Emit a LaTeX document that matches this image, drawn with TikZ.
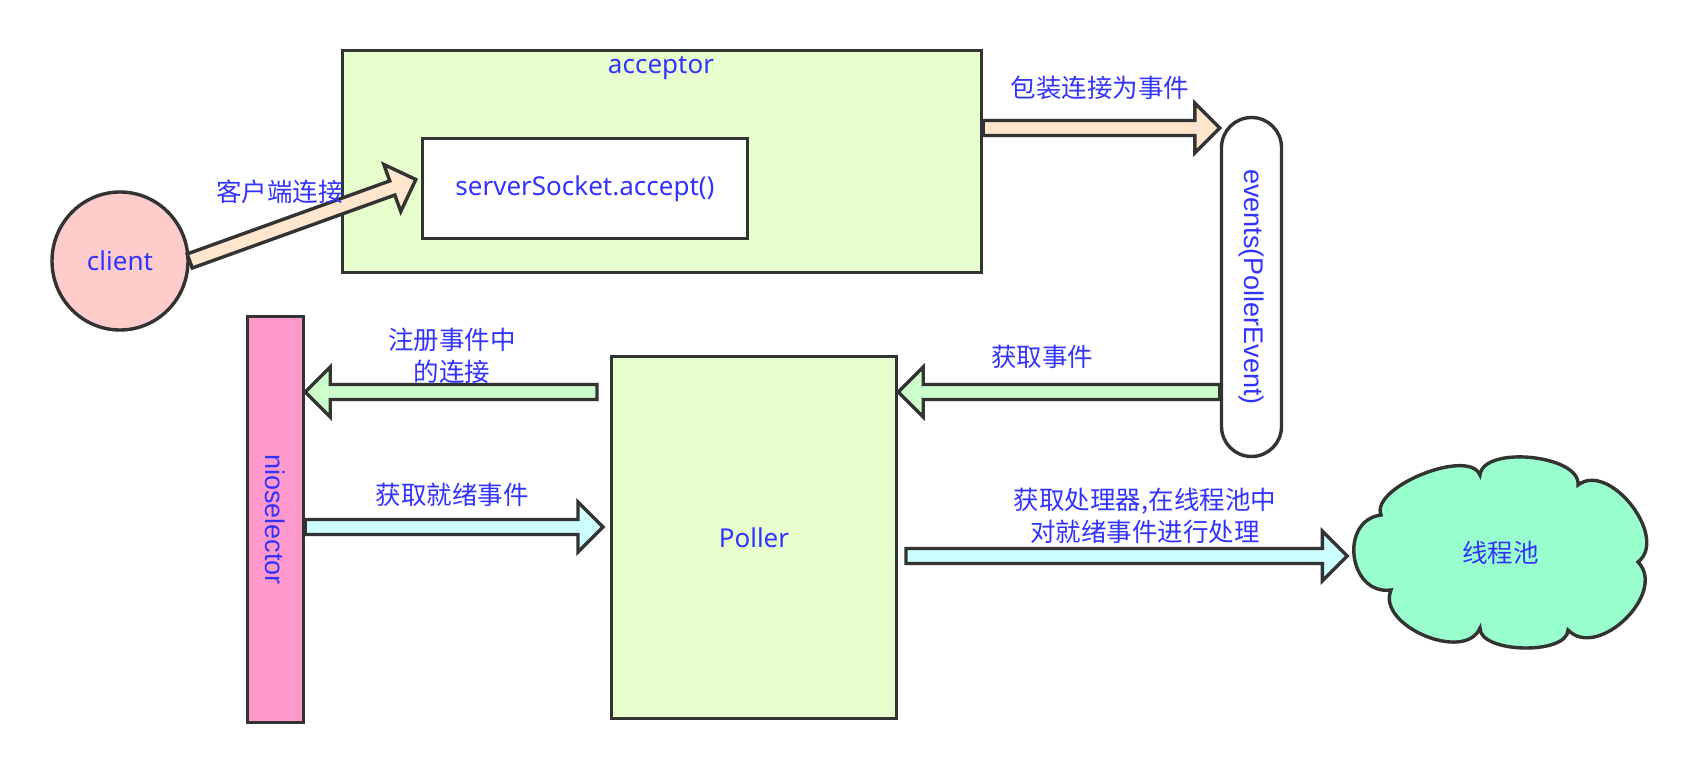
\documentclass[tikz,border=0pt]{standalone}
\usepackage{fontspec}
\usepackage{graphicx}
\setmainfont{Noto Sans}
\newfontfamily\cjk{Noto Sans CJK SC}
\newfontfamily\rotfont{Liberation Sans}
\usetikzlibrary{calc,shapes.geometric}

\definecolor{edgegray}{HTML}{333333}
\definecolor{txtblue}{HTML}{3333FF}
\definecolor{boxgreen}{HTML}{E6FFCC}
\definecolor{clientpink}{HTML}{FFCCCC}
\definecolor{niopink}{HTML}{FF99CC}
\definecolor{poolgreen}{HTML}{99FFCC}
\definecolor{peach}{HTML}{FFE6CC}
\definecolor{mint}{HTML}{CCFFCC}
\definecolor{aqua}{HTML}{CCFFFF}

\tikzset{
  box/.style={draw=edgegray, line width=3.4pt, inner sep=0pt},
  txt/.style={text=txtblue, font=\fontsize{26}{30}\selectfont, inner sep=0pt},
  rottxt/.style={text=txtblue, font=\rotfont\fontsize{27}{30}\selectfont, inner sep=0pt},
  cjktxt/.style={text=txtblue, font=\cjk\fontsize{25.5}{32}\selectfont, inner sep=0pt, align=center},
  arrowline/.style={draw=edgegray, line width=3.4pt, line join=miter},
}

% block arrow: #1 tail, #2 tip, #3 fill
\newcommand{\blockarrow}[3]{%
  \coordinate (ba-h) at ($(#2)!25pt!(#1)$);
  \filldraw[arrowline, fill=#3] ($(#1)!7.5pt!90:(#2)$) -- ($(ba-h)!7.5pt!90:(#2)$)
    -- ($(ba-h)!25pt!90:(#2)$) -- (#2) -- ($(ba-h)!25pt!-90:(#2)$)
    -- ($(ba-h)!7.5pt!-90:(#2)$) -- ($(#1)!7.5pt!-90:(#2)$) -- cycle;
}

\begin{document}
\begin{tikzpicture}[x=1pt, y=-1pt]
    \useasboundingbox (0,0) rectangle (1704,775);

    % boxes
    \node[box, fill=boxgreen, minimum width=639pt, minimum height=222pt] (acceptor) at (662,161.5) {};
    \node[txt] (acceptor-title) at (661,68) {acceptor};
    \node[box, txt, fill=white, minimum width=325pt, minimum height=100pt] (ss) at (585,188.5) {serverSocket.accept()};
    \node[box, txt, ellipse, fill=clientpink, minimum width=136pt, minimum height=138pt] (client) at (120,261) {client};
    \node[box, rottxt, fill=niopink, minimum width=56pt, minimum height=406pt] (nio) at (275.5,519.5) {\rotatebox{-90}{nioselector}};
    \node[box, txt, fill=boxgreen, minimum width=285pt, minimum height=362pt] (poller) at (754,537.5) {Poller};
    \node[box, rottxt, rounded corners=30pt, fill=white, minimum width=60pt, minimum height=339pt] (events) at (1251.5,287) {\rotatebox{-90}{events(PollerEvent)}};

    % thread pool cloud
    \filldraw[draw=edgegray, line width=3.4pt, fill=poolgreen, line join=miter]
        (1381,515) .. controls (1369.8,487.3) and (1468.8,447.3) .. (1480,475)
        .. controls (1483.1,445) and (1581.1,455) .. (1578,485)
        .. controls (1609.3,460.6) and (1669.3,537.6) .. (1638,562)
        .. controls (1667.8,592.7) and (1597.8,660.7) .. (1568,630)
        .. controls (1567.4,655.3) and (1479.4,653.3) .. (1480,628)
        .. controls (1464.9,663.3) and (1375.9,625.3) .. (1391,590)
        .. controls (1348.6,595.6) and (1338.6,520.6) .. cycle;
    \node[cjktxt, minimum width=290pt, minimum height=180pt] (pool) at (1500.5,552.5) {线程池};

    % arrows
    \coordinate (client-tip) at ([xshift=-5pt,yshift=9pt]ss.west);
    \coordinate (wrap-tail) at ([yshift=33.5pt]acceptor.east);
    \coordinate (reg-y) at (0,392);
    \coordinate (ready-y) at (0,527);
    \coordinate (pool-tip) at ([xshift=-8pt,yshift=-3.5pt]pool.west);
    \blockarrow{client.east}{client-tip}{peach}
    \blockarrow{wrap-tail}{wrap-tail -| events.west}{peach}
    \blockarrow{events.west |- reg-y}{poller.east |- reg-y}{mint}
    \blockarrow{597,392}{nio.east |- reg-y}{mint}
    \blockarrow{nio.east |- ready-y}{603,527}{aqua}
    \blockarrow{906,556}{pool-tip}{aqua}

    % labels
    \node[cjktxt] (client-lbl) at (280,192) {客户端连接};
    \node[cjktxt] (wrap-lbl) at (1100,88) {包装连接为事件};
    \node[cjktxt] (reg-lbl) at (452,356) {注册事件中\\的连接};
    \node[cjktxt] (ready-lbl) at (452,495) {获取就绪事件};
    \node[cjktxt] (get-lbl) at (1042,357) {获取事件};
    \node[cjktxt] (pool-lbl) at (1145,516) {获取处理器,在线程池中\\对就绪事件进行处理};
\end{tikzpicture}
\end{document}
